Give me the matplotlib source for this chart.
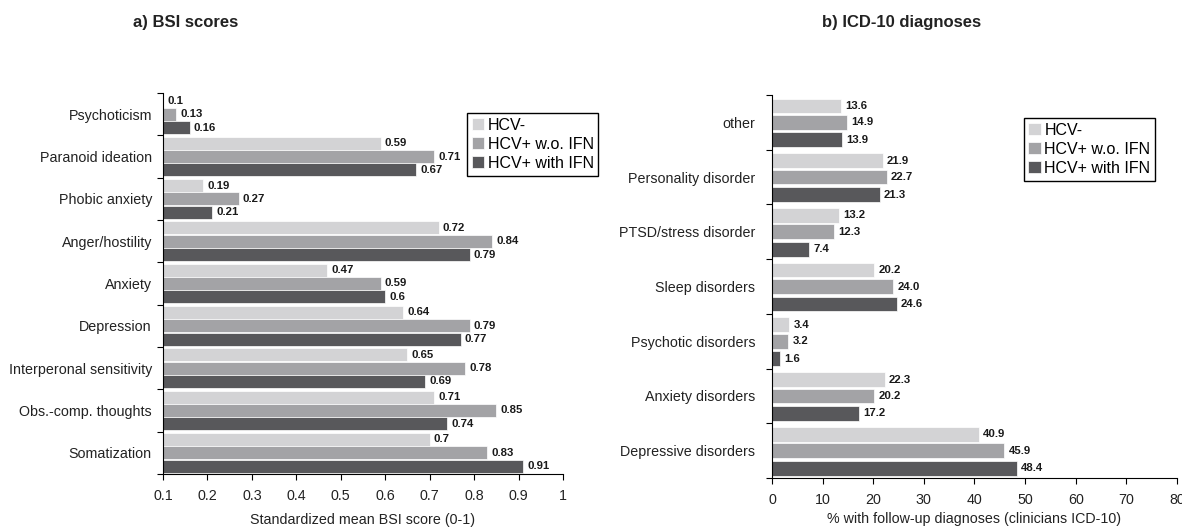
import matplotlib.pyplot as plt
import numpy as np

plt.rcParams['font.family'] = ['Liberation Sans', 'DejaVu Sans']

# dati pannello a) BSI
bsi_cat = ['Psychoticism', 'Paranoid ideation', 'Phobic anxiety', 'Anger/hostility', 'Anxiety',
           'Depression', 'Interperonal sensitivity', 'Obs.-comp. thoughts', 'Somatization']
bsi_neg = [0.1, 0.59, 0.19, 0.72, 0.47, 0.64, 0.65, 0.71, 0.7]
bsi_pos = [0.13, 0.71, 0.27, 0.84, 0.59, 0.79, 0.78, 0.85, 0.83]
bsi_ifn = [0.16, 0.67, 0.21, 0.79, 0.6, 0.77, 0.69, 0.74, 0.91]
bsi_ticks = [0.1, 0.2, 0.3, 0.4, 0.5, 0.6, 0.7, 0.8, 0.9, 1]

# dati pannello b) ICD-10
icd_cat = ['other', 'Personality disorder', 'PTSD/stress disorder', 'Sleep disorders',
           'Psychotic disorders', 'Anxiety disorders', 'Depressive disorders']
icd_neg = [13.6, 21.9, 13.2, 20.2, 3.4, 22.3, 40.9]
icd_pos = [14.9, 22.7, 12.3, 24.0, 3.2, 20.2, 45.9]
icd_ifn = [13.9, 21.3, 7.4, 24.6, 1.6, 17.2, 48.4]
icd_ticks = [0, 10, 20, 30, 40, 50, 60, 70, 80]

gruppi = ['HCV-', 'HCV+ w.o. IFN', 'HCV+ with IFN']
colori = ['#d3d3d5', '#a3a3a6', '#58585b']

fig = plt.figure(figsize=(11.82, 5.27), dpi=100)
ax1 = fig.add_axes([0.1379, 0.1006, 0.3384, 0.7229])
ax2 = fig.add_axes([0.6531, 0.093, 0.3427, 0.7267])


def pannello(ax, cat, serie, offs, h, fmt, xticks, xlim, xlabel, pad, lpad):
    y = np.arange(len(cat))
    for vals, col, off, lab in zip(serie, colori, offs, gruppi):
        ax.barh(y + off, vals, height=h, color=col, edgecolor='white', linewidth=0.5, label=lab)
        for yy, v in zip(y, vals):
            ax.annotate(fmt(v), (v, yy + off), xytext=(3, 0), textcoords='offset points',
                        va='center', ha='left', fontsize=8.2, fontweight='bold', color='#1a1a1a')
    ax.set_xlim(*xlim)
    ax.set_ylim(len(cat) - 0.5, -0.5)
    ax.set_xticks(xticks)
    ax.set_xticklabels([str(t) for t in xticks], fontsize=10.3, color='#222222')
    ax.set_yticks(np.arange(len(cat) + 1) - 0.5)
    ax.set_yticklabels([])
    ax.set_yticks(y, minor=True)
    ax.set_yticklabels(cat, minor=True, fontsize=10.3, color='#222222')
    ax.tick_params(axis='y', which='minor', length=0, pad=pad)
    ax.tick_params(axis='both', which='major', length=4, direction='out', pad=7)
    ax.set_xlabel(xlabel, fontsize=10.3, labelpad=lpad, color='#222222')
    for s in ['top', 'right']:
        ax.spines[s].set_visible(False)


pannello(ax1, bsi_cat, [bsi_neg, bsi_pos, bsi_ifn], [-0.315, 0.0, 0.315], 0.31,
         lambda v: str(v), bsi_ticks, (0.1, 1), 'Standardized mean BSI score (0-1)', 8, 7)
pannello(ax2, icd_cat, [icd_neg, icd_pos, icd_ifn], [-0.3, 0.0, 0.32], 0.27,
         lambda v: f'{v:.1f}', icd_ticks, (0, 80), '% with follow-up diagnoses (clinicians ICD-10)', 12, 3.5)

for ax, pos in [(ax1, (0.395, 0.7856)), (ax2, (0.866, 0.776))]:
    leg = ax.legend(loc='upper left', bbox_to_anchor=pos, bbox_transform=fig.transFigure,
                    borderaxespad=0, fontsize=11.5, fancybox=False, edgecolor='black',
                    handlelength=0.8, handleheight=0.8, handletextpad=0.2, labelspacing=0.25,
                    borderpad=0.3, framealpha=1)
    leg.get_frame().set_linewidth(1)

fig.text(133 / 1182, 1 - 23 / 527, 'a) BSI scores', fontsize=12, fontweight='bold',
         va='center', ha='left', color='#222222')
fig.text(822 / 1182, 1 - 23 / 527, 'b) ICD-10 diagnoses', fontsize=12, fontweight='bold',
         va='center', ha='left', color='#222222')

fig.savefig('out.png', dpi=100)
